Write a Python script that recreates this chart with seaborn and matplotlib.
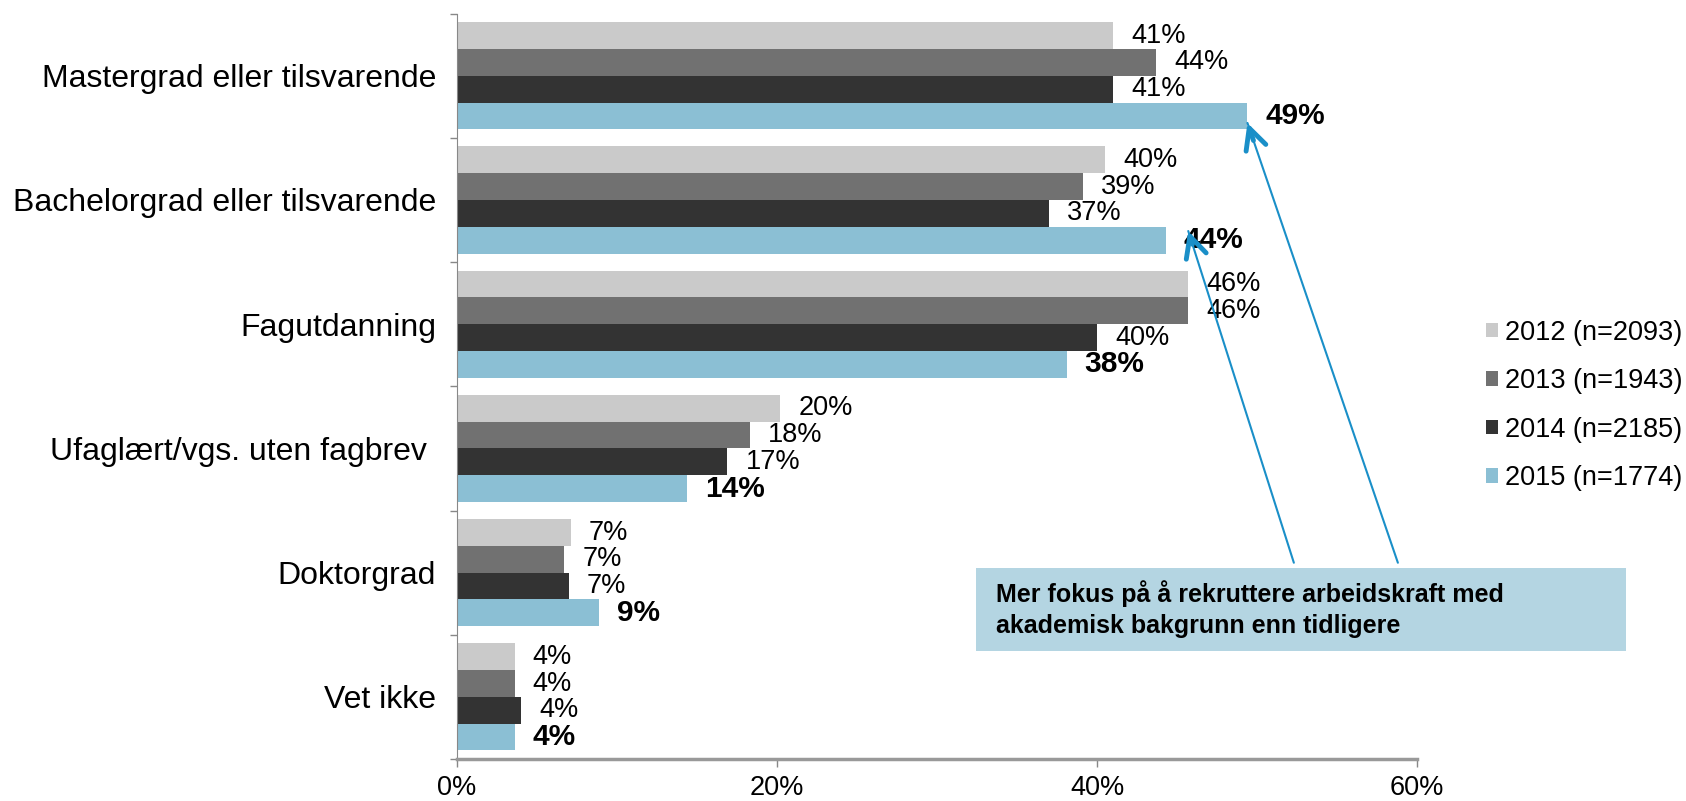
import matplotlib
matplotlib.use("Agg")
import matplotlib.pyplot as plt
import seaborn as sns
import pandas as pd

categories = ["Mastergrad eller tilsvarende", "Bachelorgrad eller tilsvarende", "Fagutdanning",
              "Ufaglært/vgs. uten fagbrev ", "Doktorgrad", "Vet ikke"]
years = ["2012 (n=2093)", "2013 (n=1943)", "2014 (n=2185)", "2015 (n=1774)"]
v2012 = [41.0, 40.5, 45.7, 20.2, 7.1, 3.6]
v2013 = [43.7, 39.1, 45.7, 18.3, 6.7, 3.6]
v2014 = [41.0, 37.0, 40.0, 16.9, 7.0, 4.0]
v2015 = [49.4, 44.3, 38.1, 14.4, 8.9, 3.6]
colors = ["#cacaca", "#717171", "#333333", "#8bbfd4"]
note = "Mer fokus på å rekruttere arbeidskraft med\nakademisk bakgrunn enn tidligere"

rows = []
for yr, vals in zip(years, [v2012, v2013, v2014, v2015]):
    for cat, v in zip(categories, vals):
        rows.append({"kategori": cat, "år": yr, "andel": v})
df = pd.DataFrame(rows)

sns.set_style("white")
plt.rcParams["font.family"] = ["Liberation Sans", "DejaVu Sans"]
plt.rcParams["text.color"] = "black"

fig = plt.figure(figsize=(16.86, 8.01), dpi=100)
ax = fig.add_axes([0.271, 0.0524, 0.5695, 0.9306])

sns.barplot(data=df, y="kategori", x="andel", hue="år", orient="h",
            palette=colors, width=0.862, errorbar=None, ax=ax,
            saturation=1, linewidth=0)

# value labels
for i, cont in enumerate(ax.containers):
    vals = [v2012, v2013, v2014, v2015][i]
    labs = [f"{round(v)}%" for v in vals]
    if i == 3:
        ax.bar_label(cont, labels=labs, padding=13, fontsize=21.5, fontweight="bold", color="black")
    else:
        ax.bar_label(cont, labels=labs, padding=13, fontsize=19.5, color="black")

ax.set_xlim(0, 60)
ax.set_ylim(5.5, -0.5)
ax.set_xticks([0, 20, 40, 60])
ax.set_xticklabels(["0%", "20%", "40%", "60%"], fontsize=19.5)
ax.set_xlabel("")
ax.set_ylabel("")
ax.tick_params(axis="y", length=0, labelsize=23, pad=15, labelcolor="black")
ax.set_yticks([i - 0.5 for i in range(7)], minor=True)
ax.tick_params(axis="y", which="minor", length=5, width=1, color="#888888", direction="out", left=True)
ax.tick_params(axis="x", length=5.5, width=1, color="#888888", direction="out", bottom=True, pad=6,
               labelcolor="black")
for s in ["top", "right"]:
    ax.spines[s].set_visible(False)
ax.spines["left"].set_color("#888888")
ax.spines["bottom"].set_color("#999999")
ax.spines["bottom"].set_linewidth(2.5)

# legend
handles, labels = ax.get_legend_handles_labels()
leg = ax.legend(handles, labels, loc="center left", bbox_to_anchor=(0.867, 0.494),
                bbox_transform=fig.transFigure, frameon=False, fontsize=19.5,
                handlelength=0.45, handleheight=0.45, handletextpad=0.25, labelspacing=0.83)
for t in leg.get_texts():
    t.set_color("black")

# annotation box and arrows
box_x = 0.579
fig.patches.append(plt.Rectangle((box_x, 0.187), 0.3855, 0.104, transform=fig.transFigure,
                                 facecolor="#b4d5e2", edgecolor="none"))
fig.text(box_x + 0.012, 0.240, note, fontsize=18, fontweight="bold", va="center",
         ha="left", linespacing=1.35)

blue = "#1a8fc8"
tips = [(v2015[0], 0.38), (v2015[1] + 1.4, 1.25)]
starts = [(58.8, 3.92), (52.3, 3.92)]
for (tx, ty), (sx, sy) in zip(tips, starts):
    ax.annotate("", xy=(tx, ty), xytext=(sx, sy),
                arrowprops=dict(arrowstyle="-", color=blue, lw=1.5, shrinkA=0, shrinkB=0))
    hx = tx + (sx - tx) * 0.04
    hy = ty + (sy - ty) * 0.04
    ax.annotate("", xy=(tx, ty), xytext=(hx, hy),
                arrowprops=dict(arrowstyle="->,head_length=1.0,head_width=0.5", color=blue,
                                lw=3.5, shrinkA=0, shrinkB=0, mutation_scale=15,
                                capstyle="round", joinstyle="round"))

fig.savefig("out.png", dpi=100)
